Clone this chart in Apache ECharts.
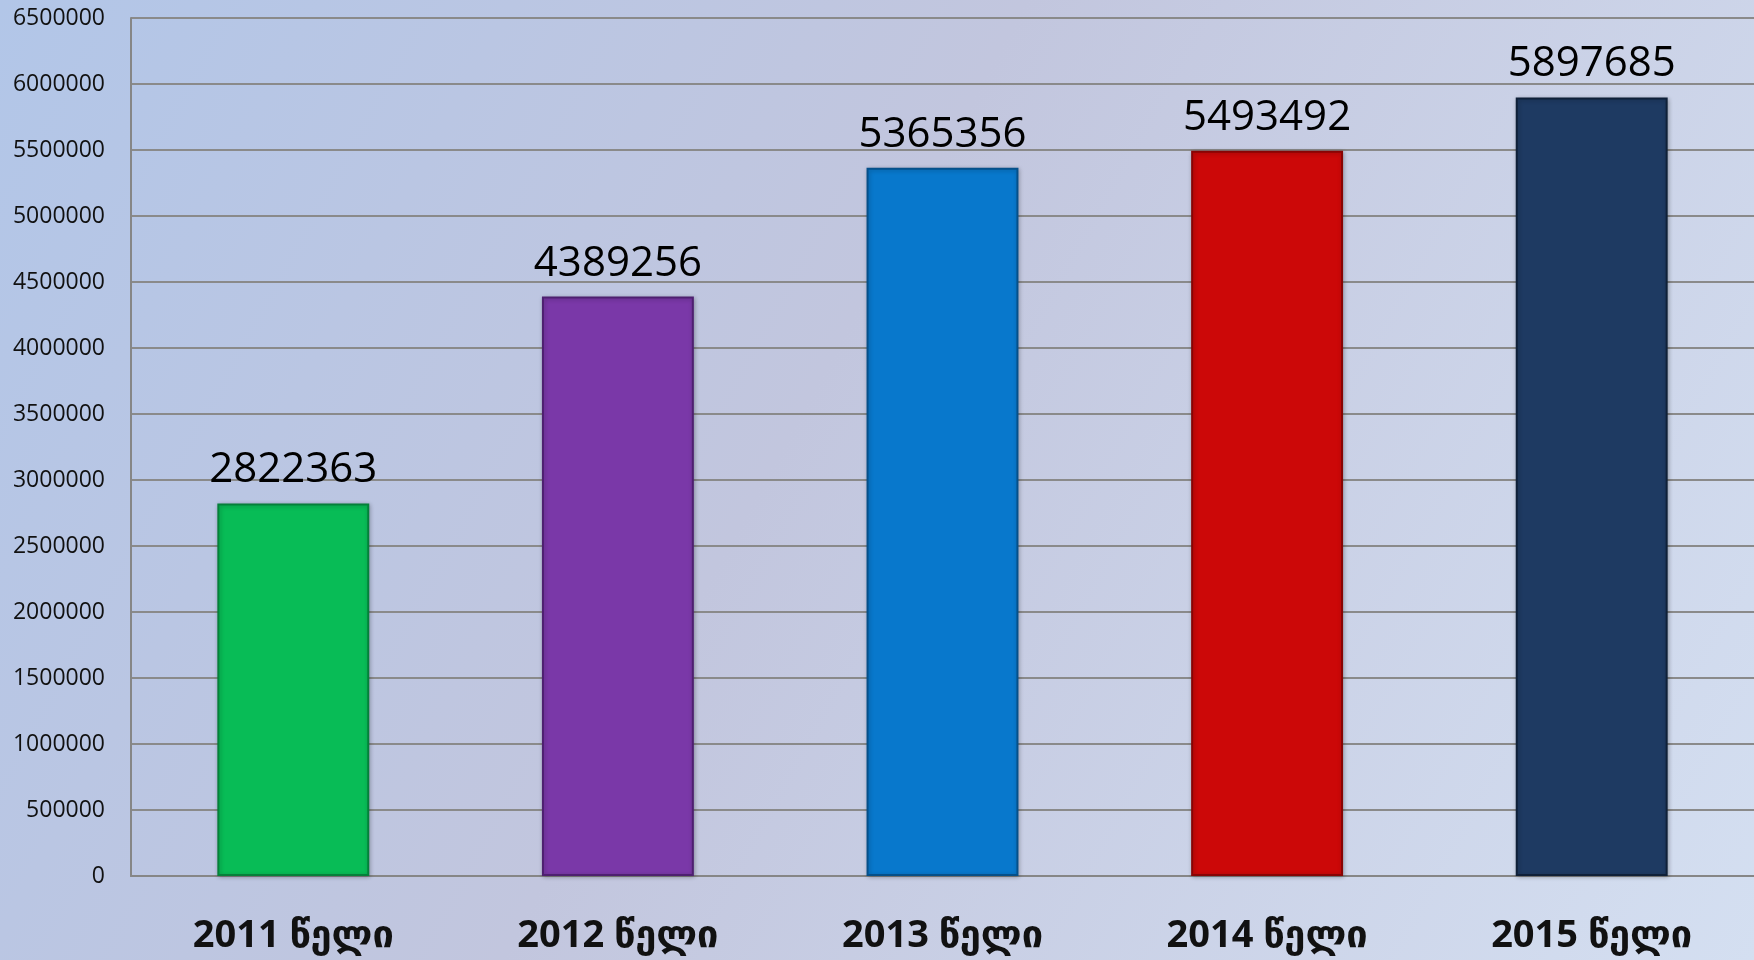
<!DOCTYPE html>
<html>
<head>
<meta charset="utf-8">
<script src="https://cdn.jsdelivr.net/npm/echarts@6/dist/echarts.min.js"></script>
<style>
    html, body { margin: 0; padding: 0; }
    #main { width: 1754px; height: 960px; }
</style>
</head>
<body>
<div id="main"></div>
<script>
    // წლები და ვიზიტორების რაოდენობა
    const years = ['2011 წელი', '2012 წელი', '2013 წელი', '2014 წელი', '2015 წელი'];
    const visitors = [2822363, 4389256, 5365356, 5493492, 5897685];
    const barColors = ['#08bc56', '#7a38a8', '#0878cc', '#cc0808', '#1e3a62'];
    const edgeColors = ['#05803a', '#4e2070', '#05508a', '#880404', '#0f2038'];

    let myChart = echarts.init(document.getElementById('main'));
    let option = {
        backgroundColor: {
            type: 'linear', x: 0, y: 0, x2: 1, y2: 1,
            colorStops: [
                {offset: 0, color: '#b2c6e8'},
                {offset: 0.45, color: '#c2c6de'},
                {offset: 1, color: '#d4dff1'}
            ]
        },
        grid: {
            left: 131,
            right: 0,
            top: 18,
            bottom: 84,
            containLabel: false
        },
        xAxis: {
            type: 'category',
            data: years,
            axisTick: {show: false},
            axisLine: {lineStyle: {color: '#868686', width: 2}},
            axisLabel: {
                margin: 40,
                color: '#111',
                fontSize: 38,
                lineHeight: 40,
                fontWeight: 'bold',
                fontFamily: "'Open Sans', 'DejaVu Sans', sans-serif"
            }
        },
        yAxis: {
            type: 'value',
            min: 0,
            max: 6500000,
            interval: 500000,
            axisLine: {show: true, lineStyle: {color: '#868686', width: 2}},
            axisTick: {show: false},
            splitLine: {lineStyle: {color: '#8a8a8a', width: 2}},
            axisLabel: {
                margin: 26,
                color: '#111',
                fontSize: 23,
                fontFamily: "'Open Sans', sans-serif",
                formatter: (v) => String(v)
            }
        },
        series: [{
            type: 'bar',
            barWidth: '46.8%',
            data: visitors.map((v, i) => ({
                value: v,
                itemStyle: {
                    color: barColors[i],
                    borderColor: edgeColors[i],
                    borderWidth: 2,
                    shadowColor: 'rgba(0,0,0,0.25)',
                    shadowBlur: 4,
                    shadowOffsetX: 1,
                    shadowOffsetY: 1
                }
            })),
            label: {
                show: true,
                position: 'top',
                distance: 12,
                color: '#000',
                fontSize: 42,
                fontFamily: "'Open Sans', sans-serif"
            }
        }]
    };
    myChart.setOption(option);
</script>
</body>
</html>
